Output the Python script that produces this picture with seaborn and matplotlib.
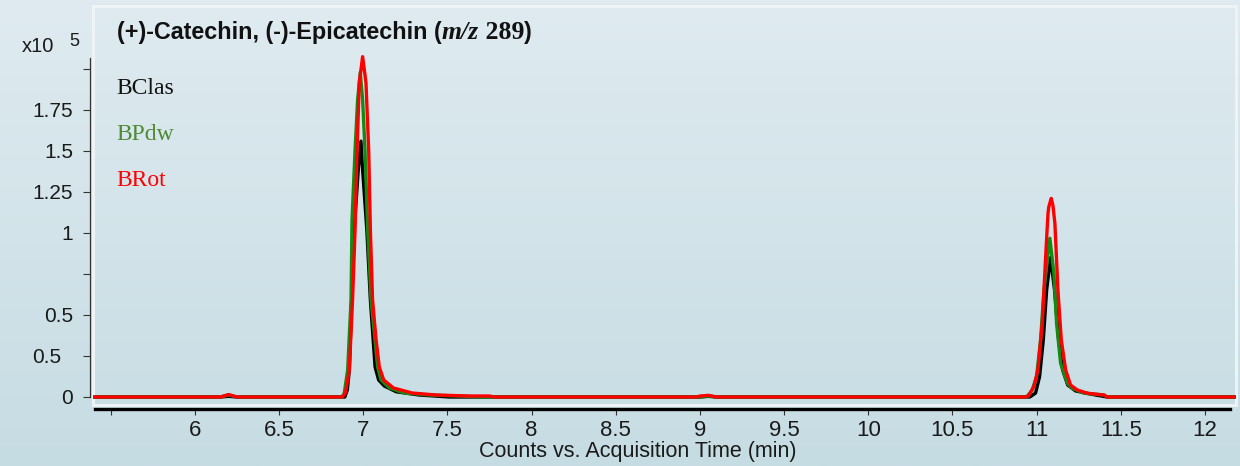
import numpy as np
import matplotlib
matplotlib.use("Agg")
import matplotlib.pyplot as plt
import seaborn as sns
from matplotlib.patches import Rectangle

# ---------------- data ----------------
x_ticks = [5.5, 6, 6.5, 7, 7.5, 8, 8.5, 9, 9.5, 10, 10.5, 11, 11.5, 12]
x_tick_labels = ["", "6", "6.5", "7", "7.5", "8", "8.5", "9", "9.5", "10", "10.5", "11", "11.5", "12"]
y_ticks = [0, 0.25, 0.5, 0.75, 1.0, 1.25, 1.5, 1.75, 2.0]
y_tick_labels = ["0", "0.5", "0.5", "", "1", "1.25", "1.5", "1.75", ""]

series_names = ["BClas", "BPdw", "BRot"]

bclas_t = [5.39, 6.15, 6.2, 6.25, 6.89, 6.905, 6.917, 6.931, 6.946, 6.970, 6.986,
           6.996, 7.021, 7.042, 7.07, 7.091, 7.125, 7.195, 7.333, 7.512, 7.65,
           9.0, 9.05, 9.1, 10.96, 10.994, 11.018, 11.04, 11.06, 11.083, 11.107,
           11.131, 11.155, 11.185, 11.232, 11.351, 11.42, 12.19]
bclas_c = [0, 0, 0.004, 0, 0, 0.043, 0.165, 0.591, 1.018, 1.384, 1.56,
           1.384, 1.018, 0.591, 0.183, 0.104, 0.067, 0.032, 0.012, 0.0, 0,
           0, 0.004, 0, 0, 0.024, 0.124, 0.348, 0.652, 0.85, 0.652,
           0.348, 0.165, 0.073, 0.037, 0.012, 0, 0]

bpdw_t = [5.39, 6.15, 6.2, 6.25, 6.875, 6.887, 6.907, 6.927, 6.933, 6.951, 6.966,
          6.982, 6.996, 7.01, 7.026, 7.046, 7.085, 7.105, 7.155, 7.244, 7.393,
          7.571, 7.7, 9.0, 9.05, 9.1, 10.93, 10.946, 10.974, 11.0, 11.024,
          11.044, 11.079, 11.103, 11.119, 11.143, 11.183, 11.212, 11.282, 11.401,
          11.42, 12.19]
bpdw_c = [0, 0, 0.012, 0, 0, 0.024, 0.165, 0.591, 1.08, 1.506, 1.81,
          1.98, 1.81, 1.506, 1.018, 0.591, 0.183, 0.104, 0.055, 0.024, 0.012,
          0.006, 0, 0, 0.006, 0, 0, 0.006, 0.043, 0.124, 0.348,
          0.652, 0.968, 0.754, 0.449, 0.205, 0.083, 0.053, 0.023, 0.012,
          0, 0]

brot_t = [5.39, 6.15, 6.2, 6.25, 6.875, 6.893, 6.917, 6.936, 6.951, 6.963, 6.976,
          6.996, 7.008, 7.016, 7.032, 7.042, 7.055, 7.076, 7.095, 7.121, 7.179,
          7.292, 7.435, 7.631, 7.75, 7.78, 8.98, 9.0, 9.05, 9.1, 10.93,
          10.952, 10.984, 11.008, 11.034, 11.054, 11.068, 11.073, 11.087, 11.097,
          11.109, 11.127, 11.147, 11.173, 11.202, 11.242, 11.302, 11.401, 11.42, 12.19]
brot_c = [0, 0, 0.015, 0, 0, 0.023, 0.165, 0.591, 1.018, 1.506, 1.915,
          2.075, 1.98, 1.913, 1.506, 1.018, 0.591, 0.348, 0.183, 0.104, 0.055,
          0.024, 0.012, 0.006, 0.006, 0, 0, 0.006, 0.01, 0, 0,
          0.006, 0.063, 0.165, 0.449, 0.855, 1.12, 1.16, 1.211, 1.17,
          1.059, 0.652, 0.348, 0.165, 0.073, 0.043, 0.023, 0.012, 0, 0]

line_colors = ["#000000", "#138a13", "#ff0000"]
label_colors = ["#111111", "#4e8a34", "#ff0000"]

# ---------------- figure ----------------
sns.set_style("white")
plt.rcParams["font.family"] = ["Liberation Sans", "DejaVu Sans"]

W, H = 1240, 466
fig = plt.figure(figsize=(W / 100, H / 100), dpi=100)

# background gradient
bg = fig.add_axes([0, 0, 1, 1], zorder=-10)
grad = np.linspace(0, 1, 256).reshape(-1, 1)
top = np.array([0xdf, 0xeb, 0xf0]) / 255
bot = np.array([0xc6, 0xdc, 0xe3]) / 255
img = top[None, None, :] * (1 - grad[..., None]) + bot[None, None, :] * grad[..., None]
bg.imshow(img, aspect="auto", extent=[0, 1, 0, 1], origin="upper")
bg.set_axis_off()

def px(x, y):
    return x / W, 1 - y / H

left, right, topp, botp = 93, 1236, 6, 405
ax = fig.add_axes([left / W, 1 - botp / H, (right - left) / W, (botp - topp) / H])
ax.set_facecolor("none")

# panel border
fig.patches.append(Rectangle((left / W, 1 - botp / H), (right - left) / W, (botp - topp) / H,
                             transform=fig.transFigure, fill=False, edgecolor="#eef3f5",
                             lw=2.2, zorder=-5))

for t, c, col in zip([bclas_t, bpdw_t, brot_t], [bclas_c, bpdw_c, brot_c], line_colors):
    sns.lineplot(x=t, y=c, color=col, lw=2.4, ax=ax, estimator=None, sort=False)

ax.set_xlim(5.394, 12.185)
ax.set_ylim(-0.0488, 2.384)

for s in ["top", "right"]:
    ax.spines[s].set_visible(False)
ax.spines["left"].set_position(("outward", 2.2))
ax.spines["left"].set_bounds(0, 2.067)
ax.spines["left"].set_color("#333333")
ax.spines["left"].set_linewidth(0.9)
ax.spines["bottom"].set_position(("outward", 3.1))
ax.spines["bottom"].set_bounds(5.406, 12.15)
ax.spines["bottom"].set_color("#000000")
ax.spines["bottom"].set_linewidth(2.4)

ax.set_xticks(x_ticks)
ax.set_xticklabels(x_tick_labels, fontsize=16, color="#1a1a1a")
ax.set_yticks(y_ticks)
ax.set_yticklabels(y_tick_labels, fontsize=15, color="#1a1a1a")
ax.tick_params(axis="x", direction="out", length=4.3, width=0.8, color="#333333", pad=3.5,
               bottom=True)
ax.tick_params(axis="y", direction="out", length=5, width=0.8, color="#333333", pad=7.2,
               left=True)
ax.yaxis.get_major_ticks()[1].set_pad(16)

ax.set_xlabel("Counts vs. Acquisition Time (min)", fontsize=15.5, color="#1a1a1a")
ax.xaxis.set_label_coords((638 - left) / (right - left), (botp - 441) / (botp - topp))
ax.set_ylabel("")

# x10^5
fig.text(*px(22, 52.5), "x10", fontsize=14.5, color="#1a1a1a", va="baseline")
fig.text(*px(69, 46), "5", fontsize=13, color="#1a1a1a", va="baseline")

# title made of pieces
t1 = fig.text(*px(117, 39), "(+)-Catechin, (-)-Epicatechin (", fontsize=16.8,
              fontweight="bold", color="#111111", va="baseline")
t2 = ax.annotate("m/z", xy=(1, 0), xycoords=t1, va="bottom", ha="left",
                 family="Liberation Serif", style="italic", weight="bold",
                 fontsize=18.5, color="#111111")
t3 = ax.annotate(" 289", xy=(1, 0), xycoords=t2, va="bottom", ha="left",
                 family="Liberation Serif", weight="bold", fontsize=18.5, color="#111111")
t4 = ax.annotate(")", xy=(1, 0), xycoords=t3, va="bottom", ha="left",
                 weight="bold", fontsize=16.8, color="#111111")

# series labels
for name, col, yb in zip(series_names, label_colors, [94, 140, 186]):
    fig.text(*px(116, yb), name, family="Liberation Serif", fontsize=17, color=col,
             va="baseline")

fig.savefig("out.png", dpi=100)
